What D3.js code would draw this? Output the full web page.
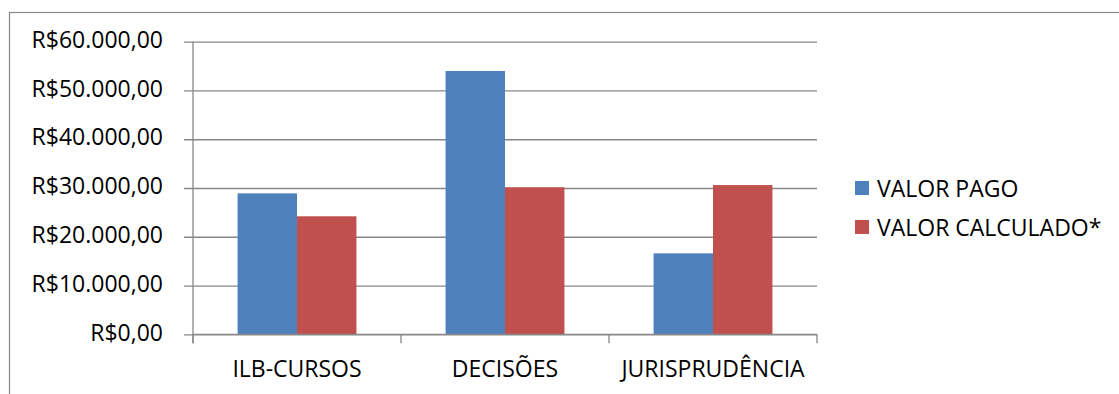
<!DOCTYPE html>
<html>
<head>
<meta charset="utf-8">
<script src="https://cdn.jsdelivr.net/npm/d3@7"></script>
<style>
  html, body { margin: 0; padding: 0; background: #fff; }
  svg { display: block; }
  text { font-family: "Open Sans", "Noto Sans", sans-serif; fill: #000; }
</style>
</head>
<body>
<svg id="chart" width="1119" height="394"></svg>
<script>
// Categories, series and tick values
const categories = ["ILB-CURSOS", "DECISÕES", "JURISPRUDÊNCIA"];
const seriesNames = ["VALOR PAGO", "VALOR CALCULADO*"];
const valorPago = [28900, 54000, 16600];
const valorCalculado = [24200, 30150, 30600];
const yTicks = [0, 10000, 20000, 30000, 40000, 50000, 60000];
const colors = ["#4F81BD", "#C0504D"];

const series = [valorPago, valorCalculado];

const svg = d3.select("#chart");
const gridColor = "#878787";
const fontSize = "23px";

// Chart area frame
svg.append("rect")
  .attr("x", 9.5).attr("y", 12.5)
  .attr("width", 1300).attr("height", 600)
  .attr("fill", "none").attr("stroke", gridColor).attr("stroke-width", 1.2);

const plot = { left: 193, right: 817, top: 41.7, bottom: 334.3 };

const x = d3.scaleBand().domain(categories).range([plot.left, plot.right]).paddingInner(0).paddingOuter(0);
const y = d3.scaleLinear().domain([0, 60000]).range([plot.bottom, plot.top]);

// Gap width of 150%: two bars plus 1.5 bar widths of gap per category
const barW = x.bandwidth() / 3.5;
const x1 = d3.scaleBand().domain(d3.range(series.length))
  .range([x.bandwidth() / 2 - barW, x.bandwidth() / 2 + barW]);

const fmt = v => "R$" + d3.format(",.2f")(v).replace(/,/g, "#").replace(/\./g, ",").replace(/#/g, ".");

// Horizontal gridlines with tick stubs
const yAxis = d3.axisLeft(y).tickValues(yTicks).tickSize(-(plot.right - plot.left)).tickFormat(fmt).tickPadding(30);
const gy = svg.append("g").attr("transform", `translate(${plot.left},0)`).call(yAxis);
gy.select(".domain").remove();
gy.selectAll(".tick line").attr("x1", -9).attr("stroke", gridColor).attr("stroke-width", 1.3);
gy.selectAll(".tick text").style("font-size", fontSize).attr("dy", "0.25em");

// Bars
series.forEach((vals, si) => {
  svg.append("g").selectAll("rect")
    .data(categories.map((c, i) => ({ c, v: vals[i] })))
    .join("rect")
    .attr("x", d => x(d.c) + x1(si))
    .attr("y", d => y(d.v))
    .attr("width", x1.bandwidth())
    .attr("height", d => y(0) - y(d.v))
    .attr("fill", colors[si]);
});

// Category axis
const xAxis = d3.axisBottom(x).tickSize(0);
const gx = svg.append("g").attr("transform", `translate(0,${plot.bottom})`).call(xAxis);
gx.select(".domain").attr("stroke", gridColor).attr("stroke-width", 1.3).attr("d", `M${plot.left},0H${plot.right}`);
gx.selectAll(".tick text").style("font-size", fontSize).attr("y", 43).attr("dy", 0);

// Category separators
const bounds = [plot.left, ...categories.map(c => x(c) + x.bandwidth())];
svg.append("g").selectAll("line").data(bounds).join("line")
  .attr("x1", d => d).attr("x2", d => d)
  .attr("y1", plot.bottom).attr("y2", plot.bottom + 9)
  .attr("stroke", gridColor).attr("stroke-width", 1.3);

// Value axis line
svg.append("line")
  .attr("x1", plot.left).attr("x2", plot.left)
  .attr("y1", plot.top).attr("y2", plot.bottom + 9)
  .attr("stroke", gridColor).attr("stroke-width", 1.3);

// Legend
const legend = svg.append("g").attr("transform", "translate(855,181)");
seriesNames.forEach((name, i) => {
  const g = legend.append("g").attr("transform", `translate(0,${i * 39})`);
  g.append("rect").attr("width", 14).attr("height", 14).attr("fill", colors[i]);
  g.append("text").attr("x", 22).attr("y", 15.5)
    .style("font-size", fontSize).text(name);
});
</script>
</body>
</html>
